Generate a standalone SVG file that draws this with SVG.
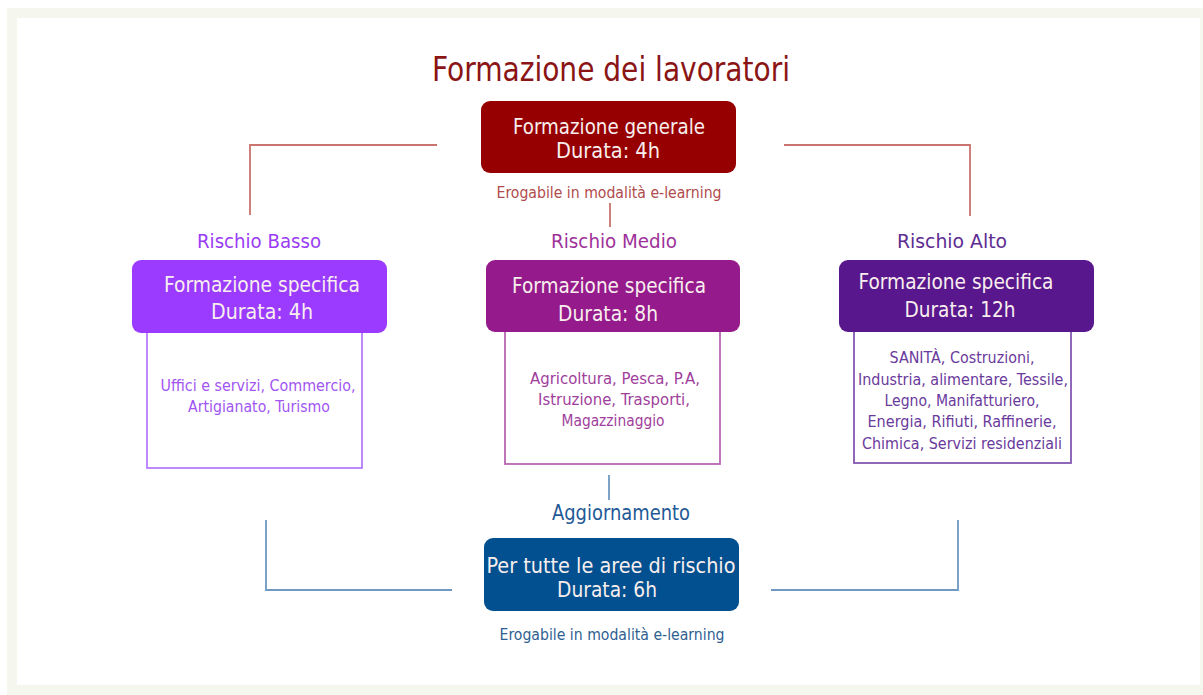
<svg xmlns="http://www.w3.org/2000/svg" width="1203" height="695" viewBox="0 0 1203 695">
<style>
text{font-family:"DejaVu Sans Condensed","DejaVu Sans","Liberation Sans",sans-serif;text-anchor:middle}
.box{stroke:none}
.wt{fill:#f8eeee;font-size:22px}
.lab{font-size:19.5px}
.sub{font-size:15px}
.red{stroke:#c9746e;stroke-width:1.8;fill:none}
.blue{stroke:#6f98c2;stroke-width:1.8;fill:none}
</style>
<rect x="7" y="8" width="1196" height="687" fill="#f5f7ee"/>
<rect x="17" y="18" width="1183" height="667" fill="#ffffff"/>
<g id="connectors">
<polyline class="red" points="437,145 250,145 250,215"/>
<polyline class="red" points="784,145 970,145 970,216"/>
<line class="red" x1="610" y1="203" x2="610" y2="227"/>
<line class="blue" x1="609" y1="475" x2="609" y2="500"/>
<polyline class="blue" points="266,520 266,590 452,590"/>
<polyline class="blue" points="771,590 958,590 958,520"/>
</g>
<g id="title">
<text x="611" y="81" font-size="33" fill="#8b1515" textLength="358" lengthAdjust="spacingAndGlyphs">Formazione dei lavoratori</text>
</g>
<g id="generale">
<rect class="box" x="481" y="101" width="255" height="72" rx="9" fill="#960000"/>
<text class="wt" x="609" y="134" textLength="192" lengthAdjust="spacingAndGlyphs">Formazione generale</text>
<text class="wt" x="608" y="158" textLength="104" lengthAdjust="spacingAndGlyphs">Durata: 4h</text>
<text x="609" y="198" font-size="15.5" fill="#b04c4c" textLength="225" lengthAdjust="spacingAndGlyphs">Erogabile in modalità e-learning</text>
</g>
<g id="basso">
<text class="lab" x="259" y="248" fill="#9b3cf5" textLength="124" lengthAdjust="spacingAndGlyphs">Rischio Basso</text>
<rect x="147" y="320" width="215" height="148" fill="#fff" stroke="#b77dff" stroke-width="1.8"/>
<rect class="box" x="132" y="260" width="255" height="73" rx="9" fill="#9a3bff"/>
<text class="wt" x="262" y="292" textLength="196" lengthAdjust="spacingAndGlyphs">Formazione specifica</text>
<text class="wt" x="262" y="319" textLength="102" lengthAdjust="spacingAndGlyphs">Durata: 4h</text>
<text class="sub" x="258" y="391" fill="#a155f2" textLength="195" lengthAdjust="spacingAndGlyphs">Uffici e servizi, Commercio,</text>
<text class="sub" x="259" y="412" fill="#a155f2" textLength="142" lengthAdjust="spacingAndGlyphs">Artigianato, Turismo</text>
</g>
<g id="medio">
<text class="lab" x="614" y="248" fill="#9e3199" textLength="126" lengthAdjust="spacingAndGlyphs">Rischio Medio</text>
<rect x="505" y="320" width="215" height="144" fill="#fff" stroke="#b866b4" stroke-width="1.8"/>
<rect class="box" x="486" y="260" width="254" height="72" rx="9" fill="#951a8c"/>
<text class="wt" x="609" y="293" textLength="194" lengthAdjust="spacingAndGlyphs">Formazione specifica</text>
<text class="wt" x="608" y="321" textLength="100" lengthAdjust="spacingAndGlyphs">Durata: 8h</text>
<text class="sub" x="615" y="384" fill="#a03e9c" textLength="170" lengthAdjust="spacingAndGlyphs">Agricoltura, Pesca, P.A,</text>
<text class="sub" x="614" y="405" fill="#a03e9c" textLength="152" lengthAdjust="spacingAndGlyphs">Istruzione, Trasporti,</text>
<text class="sub" x="613" y="426" fill="#a03e9c" textLength="103" lengthAdjust="spacingAndGlyphs">Magazzinaggio</text>
</g>
<g id="alto">
<text class="lab" x="952" y="248" fill="#5e2d92" textLength="110" lengthAdjust="spacingAndGlyphs">Rischio Alto</text>
<rect x="854" y="320" width="217" height="143" fill="#fff" stroke="#8358b2" stroke-width="1.8"/>
<rect class="box" x="839" y="260" width="255" height="72" rx="9" fill="#58178c"/>
<text class="wt" x="956" y="289" textLength="195" lengthAdjust="spacingAndGlyphs">Formazione specifica</text>
<text class="wt" x="960" y="317" textLength="111" lengthAdjust="spacingAndGlyphs">Durata: 12h</text>
<text class="sub" x="962" y="363" fill="#6a3a9c" textLength="145" lengthAdjust="spacingAndGlyphs">SANITÀ, Costruzioni,</text>
<text class="sub" x="963" y="385" fill="#6a3a9c" textLength="210" lengthAdjust="spacingAndGlyphs">Industria, alimentare, Tessile,</text>
<text class="sub" x="962" y="406" fill="#6a3a9c" textLength="155" lengthAdjust="spacingAndGlyphs">Legno, Manifatturiero,</text>
<text class="sub" x="962" y="427" fill="#6a3a9c" textLength="189" lengthAdjust="spacingAndGlyphs">Energia, Rifiuti, Raffinerie,</text>
<text class="sub" x="962" y="449" fill="#6a3a9c" textLength="200" lengthAdjust="spacingAndGlyphs">Chimica, Servizi residenziali</text>
</g>
<g id="aggiornamento">
<text x="621" y="520" font-size="21" fill="#1f5a96" textLength="138" lengthAdjust="spacingAndGlyphs">Aggiornamento</text>
<rect class="box" x="484" y="538" width="255" height="73" rx="9" fill="#02508f"/>
<text class="wt" x="611" y="573" font-size="20.5" textLength="249" lengthAdjust="spacingAndGlyphs" style="font-size:20.5px">Per tutte le aree di rischio</text>
<text class="wt" x="607" y="597" textLength="100" lengthAdjust="spacingAndGlyphs" style="font-size:20.5px">Durata: 6h</text>
<text class="sub" x="612" y="640" fill="#2f5f92" textLength="225" lengthAdjust="spacingAndGlyphs">Erogabile in modalità e-learning</text>
</g>
</svg>
